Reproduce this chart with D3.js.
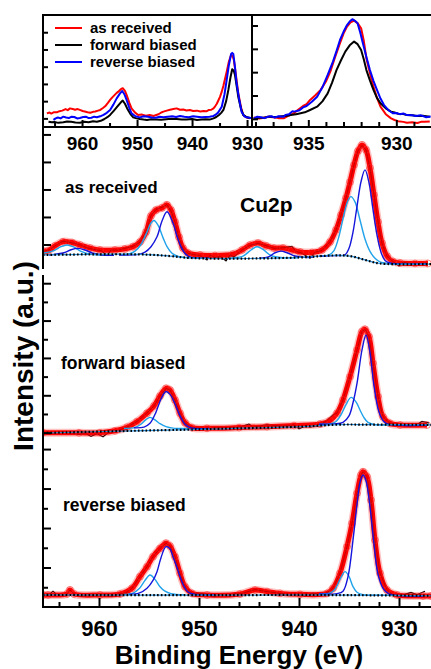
<!DOCTYPE html>
<html>
<head>
<meta charset="utf-8">
<script src="https://cdn.jsdelivr.net/npm/d3@7"></script>
<style>
  html, body { margin: 0; padding: 0; background: #fff; }
  svg { display: block; }
  text { font-family: "Liberation Sans", Arial, sans-serif; font-weight: bold; fill: #000; }
</style>
</head>
<body>
<svg id="chart" width="431" height="669"></svg>
<script>
// ---------- Inset spectra (Cu 2p overview, three samples) ----------
const legendLabels = ["as received", "forward biased", "reverse biased"];
const legendColors = ["#ff0000", "#000000", "#0000ff"];

const insetWideRed = [[966.4,0.79],[965.9,0.84],[965.6,0.78],[965.1,0.86],[964.6,0.85],[964.1,0.92],[963.6,0.95],[963.0,1.04],[962.6,0.98],[962.2,1.08],[961.7,1.05],[961.3,1.00],[960.8,1.04],[960.4,0.99],[959.9,0.93],[959.5,0.90],[959.0,0.86],[958.5,0.83],[958.0,0.88],[957.6,0.90],[957.1,0.95],[956.7,0.99],[956.2,1.10],[955.8,1.20],[955.3,1.40],[954.9,1.57],[954.5,1.72],[954.1,1.85],[953.7,1.98],[953.4,2.05],[953.0,2.18],[952.6,2.25],[952.2,2.10],[951.9,1.86],[951.4,1.40],[951.0,1.08],[950.4,0.85],[949.8,0.70],[949.2,0.72],[948.4,0.66],[947.7,0.70],[947.0,0.64],[946.5,0.70],[946.1,0.74],[945.6,0.84],[945.2,0.89],[944.6,0.95],[944.0,1.00],[943.4,1.04],[942.8,1.08],[942.2,1.00],[941.6,1.02],[941.0,0.96],[940.4,0.99],[939.8,0.93],[939.1,0.95],[938.5,0.90],[937.9,0.93],[937.4,0.91],[937.0,0.98],[936.5,1.00],[936.1,1.08],[935.8,1.20],[935.5,1.35],[935.2,1.55],[934.9,1.76],[934.6,2.05],[934.3,2.40],[934.0,2.80],[933.7,3.21],[933.3,3.80],[932.9,4.18],[932.6,4.10],[932.4,3.89],[932.0,2.95],[931.6,1.96],[931.1,1.15],[930.7,0.70],[930.1,0.55],[929.5,0.50]];
const insetWideBlack = [[966.1,0.31],[965.5,0.27],[965.0,0.29],[964.3,0.24],[963.4,0.27],[962.7,0.32],[962.0,0.30],[961.2,0.26],[960.4,0.25],[959.6,0.30],[958.8,0.28],[958.0,0.33],[957.3,0.31],[956.6,0.36],[956.0,0.45],[955.4,0.57],[954.9,0.70],[954.2,0.95],[953.6,1.18],[952.9,1.45],[952.6,1.53],[952.2,1.35],[951.8,1.08],[951.2,0.75],[950.7,0.56],[950.1,0.50],[949.5,0.46],[948.8,0.43],[948.2,0.41],[947.4,0.45],[946.5,0.44],[945.6,0.42],[944.7,0.45],[943.8,0.48],[942.8,0.47],[941.9,0.44],[941.0,0.43],[940.0,0.46],[939.1,0.41],[938.3,0.44],[937.5,0.45],[936.8,0.43],[936.1,0.50],[935.6,0.58],[935.1,0.70],[934.7,0.82],[934.3,0.99],[933.8,1.50],[933.4,2.15],[933.0,2.90],[932.7,3.35],[932.4,3.25],[932.2,3.02],[931.9,2.40],[931.6,1.76],[931.1,1.05],[930.7,0.70],[930.1,0.58],[929.5,0.52]];
const insetWideBlue = [[965.2,0.41],[964.8,0.50],[964.4,0.55],[963.9,0.50],[963.4,0.60],[962.9,0.55],[962.4,0.52],[961.9,0.60],[961.4,0.58],[960.9,0.50],[960.4,0.52],[959.8,0.58],[959.3,0.60],[958.8,0.52],[958.3,0.54],[957.8,0.60],[957.3,0.57],[956.7,0.62],[956.1,0.70],[955.5,0.82],[954.9,0.99],[954.3,1.30],[953.7,1.66],[953.1,1.95],[952.7,2.09],[952.3,1.90],[951.9,1.57],[951.4,1.10],[951.0,0.79],[950.3,0.62],[949.5,0.56],[948.8,0.62],[948.0,0.60],[947.3,0.55],[946.6,0.54],[945.9,0.60],[945.2,0.56],[944.4,0.60],[943.6,0.62],[942.9,0.58],[942.2,0.64],[941.4,0.60],[940.6,0.57],[939.8,0.62],[939.1,0.60],[938.3,0.56],[937.6,0.58],[936.8,0.60],[936.1,0.64],[935.7,0.72],[935.3,0.82],[934.6,1.18],[934.1,1.90],[933.7,2.73],[933.3,3.60],[932.9,4.24],[932.7,4.30],[932.5,4.24],[932.2,3.50],[931.9,2.54],[931.4,1.55],[931.0,0.89],[930.5,0.62],[930.1,0.56],[929.1,0.52]];

const insetZoomRed = [[938.1,0.41],[937.8,0.36],[937.6,0.39],[937.3,0.44],[937.0,0.42],[936.7,0.38],[936.4,0.37],[936.2,0.46],[936.0,0.52],[935.8,0.60],[935.6,0.73],[935.3,0.90],[935.1,0.98],[934.9,1.16],[934.6,1.36],[934.3,1.59],[934.0,1.95],[933.75,2.37],[933.5,2.95],[933.2,3.59],[933.0,4.00],[932.8,4.30],[932.6,4.48],[932.4,4.56],[932.2,4.45],[932.0,4.23],[931.85,3.70],[931.7,2.94],[931.5,2.30],[931.3,1.73],[931.1,1.25],[930.9,0.87],[930.6,0.55],[930.3,0.37],[930.1,0.30],[929.9,0.25],[929.6,0.22],[929.4,0.18],[929.1,0.20],[928.8,0.17],[928.6,0.22],[928.4,0.22],[928.1,0.24]];
const insetZoomBlack = [[938.1,0.37],[937.8,0.40],[937.5,0.40],[937.2,0.45],[937.0,0.43],[936.7,0.44],[936.5,0.46],[936.2,0.48],[936.0,0.51],[935.7,0.55],[935.5,0.58],[935.2,0.63],[934.9,0.73],[934.5,0.87],[934.2,1.10],[933.9,1.44],[933.65,1.90],[933.4,2.44],[933.15,2.85],[932.9,3.23],[932.65,3.50],[932.4,3.66],[932.2,3.55],[932.0,3.30],[931.85,2.90],[931.7,2.44],[931.5,2.00],[931.3,1.59],[931.1,1.25],[930.9,1.02],[930.6,0.80],[930.3,0.66],[930.1,0.62],[929.9,0.57],[929.6,0.56],[929.4,0.51],[929.1,0.50],[928.8,0.47],[928.5,0.48],[928.1,0.44]];
const insetZoomBlue = [[938.1,0.37],[937.9,0.44],[937.7,0.42],[937.5,0.38],[937.3,0.44],[937.1,0.46],[936.9,0.40],[936.7,0.46],[936.4,0.44],[936.3,0.52],[936.1,0.55],[935.9,0.68],[935.8,0.66],[935.6,0.70],[935.5,0.72],[935.3,0.84],[935.1,0.90],[934.8,1.08],[934.5,1.30],[934.2,1.70],[933.9,2.23],[933.6,2.80],[933.4,3.25],[933.2,3.73],[933.0,4.08],[932.8,4.37],[932.65,4.52],[932.5,4.62],[932.35,4.55],[932.2,4.44],[932.05,4.05],[931.9,3.59],[931.7,3.00],[931.5,2.44],[931.3,1.98],[931.1,1.59],[930.9,1.22],[930.7,0.94],[930.45,0.72],[930.2,0.59],[930.0,0.60],[929.8,0.55],[929.6,0.58],[929.4,0.51],[929.1,0.50],[928.9,0.47],[928.6,0.50],[928.3,0.42],[928.05,0.45]];

// ---------- Main panels: Cu 2p fits ----------
// as received
const envAsReceived = [[965.5,0.75],[965.1,0.77],[964.4,0.95],[963.6,1.10],[962.7,1.07],[961.9,0.98],[960.9,0.87],[959.9,0.80],[958.4,0.80],[957.4,0.84],[956.6,0.92],[955.9,1.09],[955.3,1.45],[954.8,2.04],[954.3,2.25],[953.7,2.33],[953.2,2.44],[952.8,2.25],[952.4,1.82],[952.0,1.27],[951.6,0.87],[951.1,0.69],[949.9,0.62],[948.4,0.60],[946.6,0.65],[945.7,0.80],[944.9,0.98],[944.1,1.05],[943.3,0.95],[942.5,0.87],[941.6,0.87],[940.7,0.80],[939.9,0.73],[938.7,0.71],[937.7,0.80],[936.9,1.09],[936.3,1.53],[935.8,2.07],[935.3,2.69],[934.9,3.27],[934.5,3.89],[934.1,4.40],[933.7,4.62],[933.3,4.44],[932.9,3.78],[932.5,2.80],[932.1,1.82],[931.7,1.05],[931.2,0.58],[930.6,0.38],[929.9,0.33],[928.4,0.31],[927.1,0.31]];
const rawAsReceived = [[965.5,0.76],[965.0,0.80],[964.4,0.95],[963.6,1.12],[962.7,1.06],[961.9,0.99],[961.2,0.88],[960.5,0.82],[959.8,0.78],[959.2,0.60],[958.8,0.80],[958.1,0.79],[957.4,0.86],[956.6,0.93],[955.9,1.08],[955.3,1.48],[954.8,2.05],[954.3,2.27],[953.7,2.35],[953.2,2.45],[952.8,2.22],[952.4,1.80],[952.0,1.25],[951.6,0.85],[951.1,0.68],[950.5,0.63],[949.9,0.60],[949.2,0.44],[948.9,0.62],[948.4,0.52],[947.9,0.58],[947.3,0.40],[946.9,0.62],[946.5,0.55],[945.7,0.80],[944.9,0.97],[944.1,1.04],[943.3,0.96],[942.5,0.86],[941.6,0.88],[940.7,0.93],[940.3,0.74],[939.8,0.70],[938.9,0.50],[938.4,0.72],[937.7,0.78],[936.9,1.10],[936.3,1.52],[935.8,2.07],[935.3,2.70],[934.9,3.28],[934.5,3.90],[934.1,4.40],[933.7,4.60],[933.3,4.43],[932.9,3.77],[932.5,2.80],[932.1,1.82],[931.7,1.04],[931.2,0.57],[930.6,0.38],[930.0,0.22],[929.6,0.36],[928.9,0.30],[928.2,0.28],[927.2,0.33]];
const bgAsReceived = [[965.6,0.62],[955.9,0.64],[952.9,0.58],[950.9,0.51],[944.9,0.49],[939.9,0.53],[936.6,0.60],[934.9,0.58],[933.4,0.44],[931.9,0.31],[926.8,0.29]];
const blueAsReceived = [
  [[938.0,0.57],[936.2,0.60],[935.4,0.62],[935.0,0.86],[934.6,1.45],[934.2,2.38],[933.8,3.28],[933.4,3.71],[933.0,3.25],[932.6,2.28],[932.2,1.35],[931.8,0.72],[931.4,0.42],[930.8,0.32],[927.2,0.29]],
  [[958.0,0.62],[956.0,0.64],[955.4,0.72],[954.8,0.92],[954.2,1.28],[953.7,1.85],[953.2,2.19],[952.6,1.78],[952.2,1.30],[951.9,1.00],[951.5,0.72],[951.0,0.56],[949.0,0.50]],
  [[965.0,0.62],[963.5,0.70],[962.8,0.81],[962.1,0.86],[961.4,0.80],[960.6,0.68],[959.6,0.62],[958.5,0.61]],
  [[944.0,0.50],[943.0,0.56],[942.4,0.70],[941.8,0.76],[941.2,0.70],[940.4,0.58],[939.4,0.53],[938.5,0.54]]
];
const cyanAsReceived = [
  [[938.0,0.57],[937.0,0.62],[936.5,0.78],[936.0,1.30],[935.5,2.10],[935.1,2.60],[934.8,2.74],[934.4,2.55],[933.9,1.89],[933.4,1.20],[932.9,0.75],[932.4,0.50],[931.9,0.37],[931.0,0.31],[927.2,0.29]],
  [[958.0,0.63],[957.0,0.66],[956.4,0.76],[955.8,1.00],[955.2,1.45],[954.8,1.78],[954.5,1.87],[954.1,1.70],[953.6,1.25],[953.2,0.92],[952.7,0.68],[952.0,0.56],[950.0,0.51]],
  [[966.0,0.66],[964.5,0.78],[963.8,0.92],[963.2,0.98],[962.6,0.92],[961.8,0.75],[960.8,0.64],[959.5,0.62]],
  [[947.0,0.50],[945.6,0.58],[944.8,0.80],[944.2,0.92],[943.6,0.82],[942.8,0.60],[941.5,0.52],[940.0,0.52]]
];

// forward biased
const envForward = [[965.6,0.50],[962.0,0.49],[959.9,0.50],[958.4,0.60],[957.2,0.79],[956.2,1.09],[955.2,1.54],[954.5,1.93],[953.9,2.46],[953.3,2.87],[952.9,2.78],[952.4,2.25],[951.9,1.54],[951.4,1.03],[950.7,0.77],[949.2,0.73],[946.0,0.77],[943.2,0.82],[940.5,0.88],[937.9,0.96],[936.9,1.14],[936.2,1.54],[935.6,2.25],[934.9,3.50],[934.2,4.93],[933.7,5.91],[933.4,6.03],[933.0,5.64],[932.6,4.21],[932.1,2.43],[931.6,1.35],[930.9,1.00],[929.9,0.91],[927.2,0.91]];
const rawForward = [[965.5,0.50],[964.6,0.46],[963.8,0.52],[962.8,0.49],[962.0,0.40],[961.4,0.48],[960.8,0.30],[960.2,0.45],[959.6,0.28],[959.0,0.53],[958.2,0.60],[957.2,0.79],[956.2,1.10],[955.2,1.55],[954.5,1.93],[953.9,2.46],[953.3,2.87],[952.9,2.78],[952.4,2.24],[951.9,1.55],[951.4,1.03],[950.7,0.77],[950.0,0.74],[949.2,0.72],[948.0,0.76],[947.0,0.74],[946.0,0.79],[945.0,0.96],[944.6,0.80],[944.0,0.85],[943.2,0.92],[942.4,0.88],[941.5,0.86],[940.5,0.92],[940.0,0.70],[939.4,0.85],[938.8,0.80],[937.9,0.96],[937.3,1.10],[936.6,1.45],[936.2,1.54],[935.6,2.25],[934.9,3.50],[934.2,4.93],[933.7,5.91],[933.4,6.03],[933.0,5.64],[932.6,4.21],[932.1,2.43],[931.6,1.35],[930.9,1.00],[930.3,0.88],[929.6,0.92],[929.0,0.85],[928.3,0.90],[927.7,1.10],[927.0,1.02]];
const bgForward = [[965.6,0.48],[956.6,0.60],[951.0,0.66],[949.9,0.68],[939.9,0.82],[936.0,0.93],[933.0,0.93],[926.8,0.92]];
const blueForward = [
  [[938.0,0.95],[936.5,0.97],[935.6,1.05],[935.0,1.40],[934.6,2.10],[934.2,3.14],[933.7,4.93],[933.3,5.73],[932.9,4.80],[932.5,3.00],[932.0,1.60],[931.5,1.08],[931.0,0.94],[927.2,0.91]],
  [[956.5,0.76],[955.5,0.80],[954.9,1.00],[954.3,1.60],[953.8,2.30],[953.3,2.70],[952.9,2.55],[952.4,2.05],[951.9,1.40],[951.4,0.95],[950.8,0.76],[949.0,0.73]]
];
const cyanForward = [
  [[938.0,0.95],[936.8,0.98],[936.3,1.10],[935.8,1.45],[935.3,2.00],[934.8,2.39],[934.3,2.15],[933.9,1.71],[933.5,1.30],[933.1,1.05],[932.5,0.94],[931.0,0.91]],
  [[957.5,0.72],[956.4,0.78],[955.8,0.95],[955.3,1.20],[954.9,1.32],[954.4,1.18],[953.9,0.98],[953.3,0.82],[952.6,0.74],[951.0,0.72]]
];

// reverse biased
const envReverse = [[965.6,0.61],[965.1,0.61],[963.2,0.66],[962.9,0.86],[962.5,0.66],[959.9,0.61],[957.9,0.66],[956.7,0.95],[955.9,1.54],[955.2,2.04],[954.6,2.55],[953.9,2.97],[953.3,3.23],[952.9,3.09],[952.4,2.55],[951.9,1.71],[951.4,1.03],[950.7,0.69],[949.2,0.61],[945.9,0.66],[944.4,0.86],[943.2,0.78],[941.9,0.69],[939.9,0.64],[937.2,0.69],[936.6,0.95],[935.9,1.71],[935.2,3.06],[934.7,4.24],[934.2,5.76],[933.8,6.69],[933.6,6.85],[933.2,6.60],[932.8,5.42],[932.4,3.39],[931.9,1.71],[931.2,0.86],[930.2,0.61],[927.6,0.56],[926.8,0.56]];
const rawReverse = [[965.5,0.60],[965.0,0.62],[964.6,0.80],[964.2,0.62],[963.6,0.58],[963.2,0.66],[962.9,0.86],[962.5,0.66],[961.8,0.55],[961.0,0.62],[960.2,0.58],[959.5,0.64],[958.8,0.55],[958.0,0.66],[957.3,0.72],[956.7,0.95],[955.9,1.54],[955.2,2.04],[954.6,2.55],[953.9,2.97],[953.3,3.23],[952.9,3.09],[952.4,2.55],[951.9,1.71],[951.4,1.03],[950.7,0.69],[950.0,0.70],[949.2,0.64],[948.5,0.52],[947.8,0.62],[947.0,0.55],[946.4,0.68],[945.9,0.66],[944.4,0.88],[943.2,0.78],[941.9,0.69],[941.0,0.60],[940.2,0.66],[939.4,0.56],[938.6,0.70],[937.8,0.62],[937.2,0.72],[936.6,0.95],[935.9,1.71],[935.2,3.06],[934.7,4.24],[934.2,5.76],[933.8,6.69],[933.6,6.85],[933.2,6.60],[932.8,5.42],[932.4,3.39],[931.9,1.71],[931.2,0.86],[930.6,0.62],[930.2,0.58],[929.4,0.64],[928.8,0.74],[928.2,0.62],[927.4,0.80]];
const bgReverse = [[965.6,0.61],[950.0,0.60],[940.0,0.61],[935.0,0.60],[926.8,0.57]];
const blueReverse = [
  [[938.0,0.66],[936.2,0.68],[935.6,0.80],[935.1,1.54],[934.6,3.39],[934.2,5.20],[933.9,6.30],[933.6,6.69],[933.3,6.40],[932.9,5.08],[932.5,3.20],[932.1,1.65],[931.6,0.95],[931.0,0.66],[927.6,0.56]],
  [[957.0,0.64],[956.0,0.70],[955.2,0.95],[954.6,1.35],[954.2,1.79],[953.8,2.50],[953.3,3.06],[952.9,2.95],[952.6,2.55],[952.2,2.00],[951.9,1.54],[951.5,1.05],[951.1,0.76],[950.4,0.64],[948.5,0.61]]
];
const cyanReverse = [
  [[938.0,0.66],[936.9,0.70],[936.4,0.90],[935.9,1.40],[935.4,1.79],[935.0,1.55],[934.6,1.03],[934.2,0.75],[933.7,0.64],[931.0,0.60]],
  [[957.5,0.63],[956.6,0.70],[956.0,0.92],[955.4,1.35],[954.9,1.62],[954.4,1.40],[953.9,1.03],[953.4,0.80],[952.8,0.68],[951.5,0.62]]
];

// ---------- Tick values ----------
const mainMajorTicks = [960, 950, 940, 930];
const mainMinorTicks = [964, 962, 958, 956, 954, 952, 948, 946, 944, 942, 938, 936, 934, 932, 928];
const insetWideMajor = [960, 950, 940, 930];
const insetWideMinor = [965, 955, 945, 935];
const insetZoomMajor = [935, 930];
const insetZoomMinor = [938, 937, 936, 934, 933, 932, 931, 929];
const insetWideYTicks = [0.5, 1.5, 2.5, 3.5, 4.5, 5.5];
const insetZoomYTicks = [0.35, 1.35, 2.35, 3.35, 4.35];
const topYTicks = [1, 2, 3, 4, 5];
const midYLong = [0.5, 2.5, 4.5, 6.5, 8.5];
const midYShort = [1.5, 3.5, 5.5, 7.5];
const botYLong = [2, 4, 6, 8];
const botYShort = [1, 3, 5, 7];

// ---------- Layout ----------
const svg = d3.select("#chart");
const L = 43, R = 431, insetTop = 15, insetBot = 127, insetMid = 252, plotBot = 607;

const xMain = d3.scaleLinear().domain([965.6, 926.8]).range([L, R]);
const xWide = d3.scaleLinear().domain([967.1, 929.1]).range([L, insetMid]);
const xZoom = d3.scaleLinear().domain([938.2, 928.03]).range([insetMid, R]);
const yWide = d3.scaleLinear().domain([0, 6.5]).range([insetBot, insetTop]);
const yZoom = d3.scaleLinear().domain([0, 4.8]).range([insetBot, insetTop]);
const yTop = d3.scaleLinear().domain([0, 5.27]).range([272, insetBot]);
const yMid = d3.scaleLinear().domain([0, 9.1]).range([442, 272]);
const yBot = d3.scaleLinear().domain([0, 8.46]).range([plotBot, 440]);

const defs = svg.append("defs");
function clip(id, x0, y0, x1, y1) {
  defs.append("clipPath").attr("id", id).append("rect")
    .attr("x", x0).attr("y", y0).attr("width", x1 - x0).attr("height", y1 - y0);
  return `url(#${id})`;
}

const smooth = d3.curveCatmullRom.alpha(0.5);
function lineGen(x, y, curve) {
  return d3.line().x(d => x(d[0])).y(d => y(d[1])).curve(curve || d3.curveLinear);
}

// ---------- Main panels ----------
const panels = [
  { y: yTop, env: envAsReceived, raw: rawAsReceived, bg: bgAsReceived, blue: blueAsReceived, cyan: cyanAsReceived, y0: insetBot, y1: 272 },
  { y: yMid, env: envForward, raw: rawForward, bg: bgForward, blue: blueForward, cyan: cyanForward, y0: 272, y1: 442 },
  { y: yBot, env: envReverse, raw: rawReverse, bg: bgReverse, blue: blueReverse, cyan: cyanReverse, y0: 442, y1: plotBot }
];

panels.forEach((p, i) => {
  const g = svg.append("g").attr("clip-path", clip("pclip" + i, L + 1, p.y0, R, p.y1));
  const sm = lineGen(xMain, p.y, smooth);
  // measured data (noise shows around the band)
  g.append("path").attr("d", lineGen(xMain, p.y)(p.raw)).attr("fill", "none")
    .attr("stroke", "#000").attr("stroke-width", 1.1);
  // fitted envelope drawn as the red band of open markers
  g.append("path").attr("d", sm(p.env)).attr("fill", "none")
    .attr("stroke", "#ff3030").attr("stroke-opacity", 0.3).attr("stroke-width", 8);
  g.append("path").attr("d", sm(p.env)).attr("fill", "none")
    .attr("stroke", "#ff0000").attr("stroke-width", 5).attr("stroke-linejoin", "round");
  g.selectAll("circle.m").data(p.env).join("circle").attr("class", "m")
    .attr("cx", d => xMain(d[0])).attr("cy", d => p.y(d[1])).attr("r", 3.4)
    .attr("fill", "none").attr("stroke", "#ff2a2a").attr("stroke-width", 1).attr("stroke-opacity", 0.6);
  // thin data trace through the band
  g.append("path").attr("d", lineGen(xMain, p.y)(p.raw)).attr("fill", "none")
    .attr("stroke", "#400").attr("stroke-width", 0.6).attr("stroke-opacity", 0.55);
  // fit components
  p.cyan.forEach(c => g.append("path").attr("d", sm(c)).attr("fill", "none")
    .attr("stroke", "#1fa2ea").attr("stroke-width", 1.4));
  p.blue.forEach(c => g.append("path").attr("d", sm(c)).attr("fill", "none")
    .attr("stroke", "#1414dc").attr("stroke-width", 1.4));
  // background
  g.append("path").attr("d", sm(p.bg)).attr("fill", "none")
    .attr("stroke", "#2a8fd8").attr("stroke-width", 1.2);
  g.append("path").attr("d", sm(p.bg)).attr("fill", "none")
    .attr("stroke", "#000").attr("stroke-width", 2.2).attr("stroke-dasharray", "1.6,2.2");
});

// ---------- Main axes ----------
const axisStyle = g => {
  g.selectAll(".domain").remove();
  g.selectAll(".tick line").attr("stroke", "#000").attr("stroke-width", 2);
};

// bottom axis
svg.append("g").attr("transform", `translate(0,${plotBot})`)
  .call(d3.axisBottom(xMain).tickValues(mainMinorTicks).tickSize(-5).tickFormat(""))
  .call(axisStyle);
svg.append("g").attr("transform", `translate(0,${plotBot})`)
  .call(d3.axisBottom(xMain).tickValues(mainMajorTicks).tickSize(-9).tickPadding(13).tickFormat(d3.format("d")))
  .call(axisStyle)
  .call(g => g.selectAll("text").style("font-size", "22px").style("font-family", "'Liberation Sans', Arial, sans-serif").style("font-weight", "bold"));

// left axes for the three panels
function leftTicks(scale, vals, len) {
  svg.append("g").attr("transform", `translate(${L},0)`)
    .call(d3.axisLeft(scale).tickValues(vals).tickSize(-len).tickFormat(""))
    .call(axisStyle);
}
leftTicks(yTop, topYTicks, 8);
leftTicks(yMid, midYLong, 8);
leftTicks(yMid, midYShort, 5);
leftTicks(yBot, botYLong, 8);
leftTicks(yBot, botYShort, 5);

// frame lines
const frame = svg.append("g").attr("stroke", "#000").attr("stroke-width", 2);
frame.append("line").attr("x1", L).attr("x2", L).attr("y1", insetTop).attr("y2", 269);
frame.append("line").attr("x1", L).attr("x2", L).attr("y1", 275).attr("y2", plotBot + 1);
frame.append("line").attr("x1", L - 1).attr("x2", R).attr("y1", plotBot).attr("y2", plotBot);
frame.append("line").attr("x1", L - 1).attr("x2", R).attr("y1", insetTop).attr("y2", insetTop);
frame.append("line").attr("x1", L - 1).attr("x2", R).attr("y1", insetBot).attr("y2", insetBot);
frame.append("line").attr("x1", insetMid).attr("x2", insetMid).attr("y1", insetTop).attr("y2", insetBot);

// ---------- Insets ----------
const gw = svg.append("g").attr("clip-path", clip("wclip", L + 1, insetTop + 1, insetMid - 1, insetBot - 1));
const gz = svg.append("g").attr("clip-path", clip("zclip", insetMid + 1, insetTop + 1, R, insetBot - 1));
const wideSeries = [insetWideRed, insetWideBlack, insetWideBlue];
const zoomSeries = [insetZoomRed, insetZoomBlack, insetZoomBlue];
[0, 1, 2].forEach(i => {
  gw.append("path").attr("d", lineGen(xWide, yWide)(wideSeries[i])).attr("fill", "none")
    .attr("stroke", legendColors[i]).attr("stroke-width", 2).attr("stroke-linejoin", "round");
  gz.append("path").attr("d", lineGen(xZoom, yZoom)(zoomSeries[i])).attr("fill", "none")
    .attr("stroke", legendColors[i]).attr("stroke-width", 2).attr("stroke-linejoin", "round");
});

const insetFont = g => g.selectAll("text").style("font-size", "19px")
  .style("font-family", "'Liberation Sans', Arial, sans-serif").style("font-weight", "bold");

svg.append("g").attr("transform", `translate(0,${insetBot})`)
  .call(d3.axisBottom(xWide).tickValues(insetWideMinor).tickSize(-4).tickFormat("")).call(axisStyle);
svg.append("g").attr("transform", `translate(0,${insetBot})`)
  .call(d3.axisBottom(xWide).tickValues(insetWideMajor).tickSize(-7).tickPadding(10).tickFormat(d3.format("d")))
  .call(axisStyle).call(insetFont);
svg.append("g").attr("transform", `translate(0,${insetBot})`)
  .call(d3.axisBottom(xZoom).tickValues(insetZoomMinor).tickSize(-5).tickFormat("")).call(axisStyle);
svg.append("g").attr("transform", `translate(0,${insetBot})`)
  .call(d3.axisBottom(xZoom).tickValues(insetZoomMajor).tickSize(-7).tickPadding(10).tickFormat(d3.format("d")))
  .call(axisStyle).call(insetFont);

svg.append("g").attr("transform", `translate(${L},0)`)
  .call(d3.axisLeft(yWide).tickValues(insetWideYTicks).tickSize(-5).tickFormat("")).call(axisStyle);
svg.append("g").attr("transform", `translate(${insetMid},0)`)
  .call(d3.axisLeft(yZoom).tickValues(insetZoomYTicks).tickSize(-6).tickFormat("")).call(axisStyle);

// legend
const leg = svg.append("g");
legendLabels.forEach((lab, i) => {
  const yy = 28 + i * 17;
  leg.append("line").attr("x1", 55).attr("x2", 82).attr("y1", yy).attr("y2", yy)
    .attr("stroke", legendColors[i]).attr("stroke-width", 2);
  leg.append("text").attr("x", 90).attr("y", yy + 5.2).style("font-size", "15px").text(lab);
});

// ---------- Labels ----------
svg.append("text").attr("x", 65).attr("y", 193).style("font-size", "17px").text("as received");
svg.append("text").attr("x", 240).attr("y", 212).style("font-size", "21px").text("Cu2p");
svg.append("text").attr("x", 61).attr("y", 369).style("font-size", "17.5px").text("forward biased");
svg.append("text").attr("x", 63).attr("y", 511).style("font-size", "17.5px").text("reverse biased");

svg.append("text").attr("x", 239).attr("y", 664).attr("text-anchor", "middle")
  .style("font-size", "26px").text("Binding Energy (eV)");
svg.append("text").attr("transform", "translate(33,356) rotate(-90)").attr("text-anchor", "middle")
  .style("font-size", "28px").text("Intensity (a.u.)");
</script>
</body>
</html>
